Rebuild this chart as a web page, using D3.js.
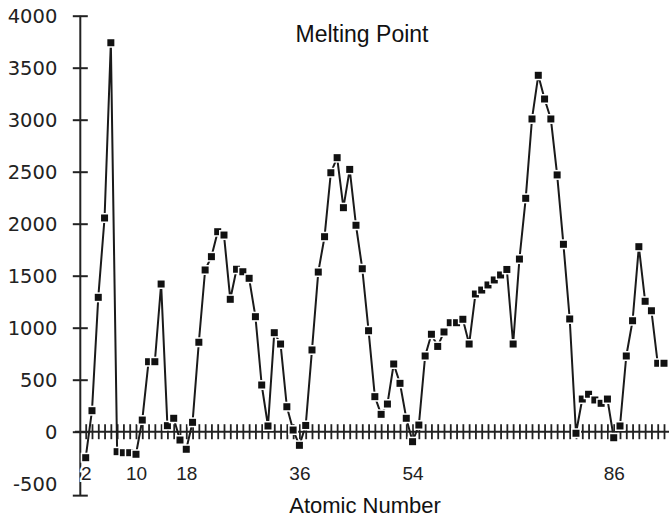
<!DOCTYPE html>
<html>
<head>
<meta charset="utf-8">
<script src="https://cdn.jsdelivr.net/npm/d3@7"></script>
<style>
  body { margin: 0; background: #fff; }
  svg { display: block; }
  .title, .xtitle { font-family: "Liberation Sans", Arial, sans-serif; fill: #111; }
  .yaxis text { font-family: "DejaVu Sans", sans-serif; font-size: 19.5px; fill: #222; }
  .xaxis text { font-family: "Liberation Sans", Arial, sans-serif; font-size: 19px; fill: #222;
    stroke: #fff; stroke-width: 4px; paint-order: stroke; }
</style>
</head>
<body>
<div id="chart"></div>
<script>
'use strict';

// atomic number on x, melting point (deg C) on y
var atomicNumbers = [2, 3, 4, 5, 6, 7, 8, 9, 10, 11, 12, 13, 14, 15, 16, 17, 18, 19, 20,
  21, 22, 23, 24, 25, 26, 27, 28, 29, 30, 31, 32, 33, 34, 35, 36, 37, 38, 39, 40,
  41, 42, 43, 44, 45, 46, 47, 48, 49, 50, 51, 52, 53, 54, 55, 56, 57, 58, 59, 60,
  61, 62, 63, 64, 65, 66, 67, 68, 69, 70, 71, 72, 73, 74, 75, 76, 77, 78, 79, 80,
  81, 82, 83, 84, 85, 86, 87, 88, 89, 90, 91, 92, 93, 94];
var meltingPoints = [-250, 202, 1292, 2055, 3740, -192, -202, -202, -217, 112, 673, 673, 1420, 58, 129, -80, -169, 90, 860,
  1555, 1683, 1923, 1891, 1273, 1562, 1538, 1475, 1106, 449, 55, 952, 843, 240, 16, -131, 60, 786, 1535, 1875,
  2490, 2635, 2154, 2522, 1985, 1567, 971, 337, 167, 266, 651, 465, 129, -96, 64, 728, 937, 820, 959, 1048,
  1048, 1081, 843, 1324, 1362, 1411, 1459, 1507, 1560, 843, 1660, 2244, 3007, 3427, 3199, 3007, 2469, 1802, 1084, -15,
  314, 360, 305, 273, 314, -58, 55, 728, 1067, 1779, 1254, 1163, 658, 658];
var yTicks = [-500, 0, 500, 1000, 1500, 2000, 2500, 3000, 3500, 4000];
var xLabels = [2, 10, 18, 36, 54, 86];

var width = 669, height = 522;
var yEnd = -610; // axis runs a little below the last labelled tick

var data = atomicNumbers.map(function (n, i) { return {n: n, v: meltingPoints[i]}; });

var x = d3.scaleLinear().domain([2, 94]).range([85.7, 664]);
var y = d3.scaleLinear().domain([-500, 4000]).range([483.7, 15.7]);

var svg = d3.select('#chart').append('svg')
  .attr('width', width)
  .attr('height', height);

// y axis, ticks cross the line
var yAxis = svg.append('g')
  .attr('class', 'yaxis')
  .attr('transform', 'translate(80.3,0)')
  .call(d3.axisLeft(y).tickValues(yTicks.concat([yEnd])).tickSize(0).tickSizeOuter(0)
    .tickFormat(function (d) { return d === yEnd ? '' : d; }));
yAxis.select('.domain').remove();
yAxis.append('line')
  .attr('y1', y(4000)).attr('y2', y(yEnd))
  .attr('stroke', '#222').attr('stroke-width', 2);
yAxis.selectAll('.tick line')
  .attr('x1', -7.5).attr('x2', 7.5)
  .attr('stroke', '#222').attr('stroke-width', 2)
  .attr('display', function (d) { return d === -500 ? 'none' : null; });
yAxis.selectAll('.tick text')
  .attr('x', -23).attr('dy', '0.36em');

// x axis along zero, one tick per element
var xAxis = svg.append('g')
  .attr('class', 'xaxis')
  .attr('transform', 'translate(0,' + y(0) + ')')
  .call(d3.axisBottom(x).tickValues(d3.range(2, 95)).tickSize(0).tickSizeOuter(0)
    .tickFormat(function (d) { return xLabels.indexOf(d) >= 0 ? d : ''; }));
xAxis.select('.domain').remove();
xAxis.insert('line', ':first-child')
  .attr('x1', 75).attr('x2', width)
  .attr('stroke', '#222').attr('stroke-width', 2);
xAxis.selectAll('.tick line')
  .attr('y1', -7.5).attr('y2', 7.5)
  .attr('stroke', '#222').attr('stroke-width', 1.8);
xAxis.selectAll('.tick text')
  .attr('y', 48).attr('dy', 0);

// series
var line = d3.line()
  .x(function (d) { return x(d.n); })
  .y(function (d) { return y(d.v); });

svg.append('path')
  .datum(data)
  .attr('d', line)
  .attr('fill', 'none')
  .attr('stroke', '#1a1a1a')
  .attr('stroke-width', 2)
  .attr('stroke-linejoin', 'round');

var s = 7;
svg.append('g')
  .selectAll('rect')
  .data(data)
  .enter().append('rect')
  .attr('x', function (d) { return x(d.n) - s / 2; })
  .attr('y', function (d) { return y(d.v) - s / 2; })
  .attr('width', s)
  .attr('height', s)
  .attr('fill', '#111')
  .attr('stroke', '#fff')
  .attr('stroke-width', 3)
  .style('paint-order', 'stroke');

// titles
svg.append('text')
  .attr('class', 'title')
  .attr('x', 362).attr('y', 42)
  .attr('text-anchor', 'middle')
  .style('font-size', '23px')
  .text('Melting Point');

svg.append('text')
  .attr('class', 'xtitle')
  .attr('x', 365).attr('y', 513)
  .attr('text-anchor', 'middle')
  .style('font-size', '22px')
  .text('Atomic Number');
</script>
</body>
</html>
